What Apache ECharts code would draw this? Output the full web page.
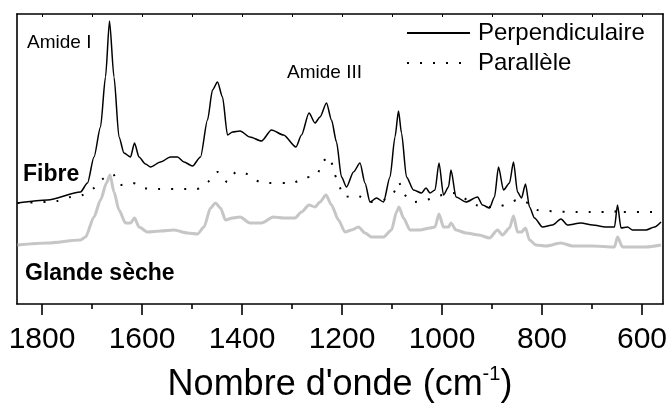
<!DOCTYPE html>
<html>
<head>
<meta charset="utf-8">
<script src="https://cdn.jsdelivr.net/npm/echarts@6/dist/echarts.min.js"></script>
<style>
html,body{margin:0;padding:0;background:#fff;}
#chart{width:668px;height:403px;}
</style>
</head>
<body>
<div id="chart"></div>
<script>
// Wavenumber (cm-1) and intensity (arbitrary units, offset spectra)
const perpWn = [1849,1789,1723,1709,1696,1683,1673,1665,1656,1646,1636,1623,1615,1606,1593,1583,1563,1543,1529,1516,1499,1483,1469,1459,1449,1439,1429,1419,1404,1384,1361,1341,1317,1292,1281,1266,1254,1244,1231,1221,1211,1201,1191,1177,1164,1154,1144,1131,1117,1104,1094,1087,1081,1071,1057,1041,1032,1024,1014,1006,997,987,982,972,952,929,919,905,895,887,877,865,857,849,841,833,825,815,799,779,762,749,722,699,672,655,649,642,629,619,592,575,562];
const perpVal = [101,104,112,121,147,177,227,283,227,167,151,147,161,147,140,137,142,147,147,142,138,147,184,214,222,207,169,172,173,167,163,174,169,157,169,191,181,187,201,184,162,127,117,132,141,121,102,106,102,127,167,193,171,127,114,111,116,111,114,141,109,117,134,107,102,107,99,96,107,137,114,121,142,112,106,120,97,86,77,79,85,79,81,79,77,77,99,76,77,74,74,77,82];

const paraWn = [1849,1769,1743,1719,1696,1676,1659,1643,1619,1596,1569,1491,1468,1449,1429,1411,1394,1374,1351,1301,1276,1251,1239,1225,1217,1207,1194,1172,1144,1117,1097,1087,1077,1057,1031,1007,979,932,892,865,849,832,809,702,655,649,639,559];
const paraVal = [101,103,107,109,116,126,130,119,121,116,115,115,122,132,122,132,131,124,121,121,126,129,142,147,133,121,107,109,102,104,111,122,111,102,104,108,111,99,97,101,104,102,94,92,92,96,92,92];

const glandWn = [1849,1789,1723,1713,1696,1683,1671,1664,1656,1646,1633,1623,1615,1606,1589,1563,1536,1509,1489,1476,1463,1453,1443,1433,1419,1404,1384,1361,1337,1317,1294,1281,1266,1254,1244,1232,1221,1207,1194,1181,1167,1154,1141,1117,1101,1091,1086,1077,1064,1044,1024,1014,1006,997,987,982,972,952,926,905,889,879,865,857,849,841,833,825,812,792,762,739,699,655,649,639,592,562];
const glandVal = [59,61,64,67,87,104,121,129,112,94,81,81,86,77,72,73,74,71,70,77,96,101,96,84,86,87,81,81,87,86,86,92,99,97,102,109,99,84,72,74,77,71,67,67,74,92,97,86,74,74,76,77,90,77,77,81,74,71,69,66,74,69,76,88,72,72,76,64,59,58,61,58,58,57,67,57,57,59];

const majorTicks = [1800,1600,1400,1200,1000,800,600];
const minorTicks = [1700,1500,1300,1100,900,700];
const topTicks = [1800,1700,1600,1500,1400,1300,1200,1100,1000,900,800,700,600];

const seriesNames = ['Perpendiculaire','Parallèle','Glande sèche'];
const annotations = ['Amide I','Amide III','Fibre','Glande sèche'];

function pairs(xs, ys){ return xs.map((x,i)=>[x, ys[i]]); }

const FONT = "'Liberation Sans', Arial, Helvetica, sans-serif";
const xMin = 558, xMax = 1850;

const chart = echarts.init(document.getElementById('chart'), null, {renderer:'canvas'});
chart.setOption({
  animation:false,
  backgroundColor:'#ffffff',
  textStyle:{fontFamily:FONT},
  grid:{left:17, right:5, top:14, bottom:99, containLabel:false, outerBoundsMode:'none'},
  legend:{
    data:[seriesNames[0], seriesNames[1]],
    orient:'vertical',
    left:406, top:21, padding:0,
    itemWidth:63, itemHeight:24, itemGap:6,
    itemStyle:{opacity:0},
    textStyle:{fontFamily:FONT, fontSize:24, color:'#000', padding:[2,0,0,3]},
    selectedMode:false
  },
  xAxis:[
    {
      type:'value', position:'bottom', min:xMin, max:xMax, inverse:true,
      axisLine:{show:true, onZero:false, lineStyle:{color:'#000', width:1.6}},
      axisTick:{show:true, inside:false, length:11, customValues:majorTicks, lineStyle:{color:'#000', width:1.6}},
      axisLabel:{show:true, customValues:majorTicks, fontSize:30, color:'#000', margin:21, fontFamily:FONT,
        formatter:function(v){return String(v);}},
      splitLine:{show:false},
      name:"Nombre d'onde (cm{sup|-1})",
      nameLocation:'middle', nameGap:60,
      nameTextStyle:{fontSize:36, color:'#000', fontFamily:FONT,
        rich:{sup:{fontSize:20, color:'#000', fontFamily:FONT, padding:[0,0,22,0]}}}
    },
    {
      type:'value', position:'bottom', min:xMin, max:xMax, inverse:true,
      axisLine:{show:false, onZero:false},
      axisTick:{show:true, inside:false, length:5, customValues:minorTicks, lineStyle:{color:'#000', width:1.6}},
      axisLabel:{show:false},
      splitLine:{show:false}
    },
    {
      type:'value', position:'top', min:xMin, max:xMax, inverse:true,
      axisLine:{show:true, onZero:false, lineStyle:{color:'#000', width:1.6}},
      axisTick:{show:true, inside:true, length:3, customValues:topTicks, lineStyle:{color:'#000', width:1}},
      axisLabel:{show:false},
      splitLine:{show:false}
    }
  ],
  yAxis:[
    {type:'value', position:'left', min:0, max:290,
      axisLine:{show:true, onZero:false, lineStyle:{color:'#000', width:1.6}},
      axisTick:{show:false}, axisLabel:{show:false}, splitLine:{show:false}},
    {type:'value', position:'right', min:0, max:290,
      axisLine:{show:true, onZero:false, lineStyle:{color:'#000', width:1.6}},
      axisTick:{show:false}, axisLabel:{show:false}, splitLine:{show:false}}
  ],
  series:[
    {
      name:seriesNames[2], type:'line', data:pairs(glandWn, glandVal),
      xAxisIndex:0, yAxisIndex:0, symbol:'none', smooth:0.25, smoothMonotone:'x',
      lineStyle:{color:'#c6c6c6', width:3}, z:1
    },
    {
      name:seriesNames[1], type:'line', data:pairs(paraWn, paraVal),
      xAxisIndex:0, yAxisIndex:0, symbol:'none', smooth:0.3,
      lineStyle:{color:'#000', width:2, type:[2,11], cap:'butt'},
      itemStyle:{color:'#000'}, z:2
    },
    {
      name:seriesNames[0], type:'line', data:pairs(perpWn, perpVal),
      xAxisIndex:0, yAxisIndex:0, symbol:'none', smooth:0.25, smoothMonotone:'x',
      lineStyle:{color:'#000', width:1.5},
      itemStyle:{color:'#000'}, z:3
    }
  ],
  graphic:[
    {type:'text', left:27, top:33, style:{text:annotations[0], font:'19px '+FONT, fill:'#000'}},
    {type:'text', left:287, top:63, style:{text:annotations[1], font:'19px '+FONT, fill:'#000'}},
    {type:'text', left:23, top:163, style:{text:annotations[2], font:'bold 23px '+FONT, fill:'#000'}},
    {type:'text', left:25, top:262, style:{text:annotations[3], font:'bold 23px '+FONT, fill:'#000'}}
  ]
});
</script>
</body>
</html>
